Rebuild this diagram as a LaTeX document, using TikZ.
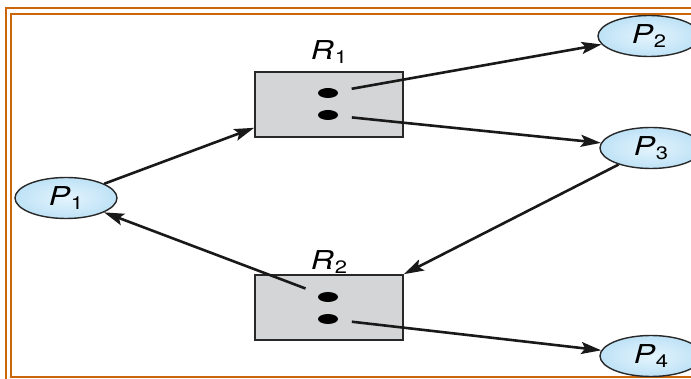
\documentclass[tikz,border=0pt]{standalone}
\usepackage{fontspec}
\setmainfont{TeX Gyre Heros}
\newfontfamily\lblfont[FakeStretch=1.22]{TeX Gyre Heros}
\usetikzlibrary{shapes.geometric,arrows.meta}
\definecolor{frameor}{RGB}{204,102,10}
\definecolor{pin}{RGB}{228,244,253}
\definecolor{pout}{RGB}{190,226,246}
\definecolor{rfill}{RGB}{212,213,214}
\definecolor{edge}{RGB}{40,40,40}
\newcommand{\lbl}[2]{\lblfont\fontsize{26}{28}\selectfont\itshape #1\upshape\kern1pt\raisebox{-4pt}{\fontsize{18}{18}\selectfont #2}}
\begin{document}
\begin{tikzpicture}[x=1pt,y=-1pt,
  proc/.style={ellipse,draw=edge,line width=1.4pt,inner color=pin,outer color=pout,minimum width=102pt,minimum height=41pt,inner sep=0pt},
  res/.style={rectangle,draw=edge,line width=1.6pt,fill=rfill,minimum width=148pt,minimum height=65pt,inner sep=0pt},
  dot/.style={ellipse,fill=black,minimum width=20pt,minimum height=10pt,inner sep=0pt},
  rlab/.style={inner sep=0pt},
  arr/.style={line width=2.6pt,draw=black!90,-{Stealth[length=20pt,width=12pt,inset=4pt]}},
  frm/.style={draw=frameor,line width=2.2pt}]
\useasboundingbox (0,0) rectangle (691,379);
\fill[white] (0,0) rectangle (691,379);
% frame
\draw[frm] (6,8) rectangle (720,390);
\draw[frm] (11,14) rectangle (710,377);
% resources
\node[res] (r1) at (329,104.5) {};
\node[res] (r2) at (329,307.5) {};
\node[rlab] (r1l) at (329,52) {\lbl{R}{1}};
\node[rlab] (r2l) at (329,262) {\lbl{R}{2}};
\node[dot] (r1a) at (328,93) {};
\node[dot] (r1b) at (328,115) {};
\node[dot] (r2a) at (328,297) {};
\node[dot] (r2b) at (328,319) {};
% processes
\node[proc] (p1) at (66,198) {\lbl{P}{1}};
\node[proc] (p2) at (649,36) {\lbl{P}{2}};
\node[proc] (p3) at (651,148) {\lbl{P}{3}};
\node[proc] (p4) at (651,356) {\lbl{P}{4}};
% edges
\draw[arr] (p1) -- ([yshift=10pt]r1.south west);
\draw[arr,shorten <=24pt] (r1a.center) -- (p2);
\draw[arr,shorten <=24pt] (r1b.center) -- (p3);
\draw[arr] (p3) -- (r2.north east);
\draw[arr,shorten <=24pt] (r2a.center) -- (p1);
\draw[arr,shorten <=24pt] (r2b.center) -- (p4);
\end{tikzpicture}
\end{document}
